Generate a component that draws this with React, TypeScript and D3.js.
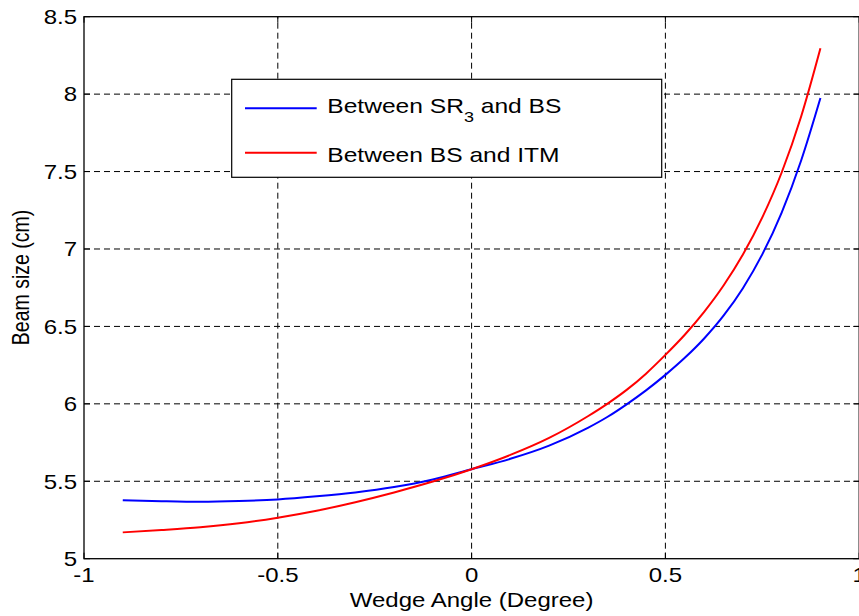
import React from "react";
import * as d3 from "d3";

const angles = [-0.9, -0.8, -0.7, -0.6, -0.5, -0.4, -0.3, -0.2, -0.1, 0, 0.1, 0.2, 0.3, 0.35, 0.4, 0.45, 0.5, 0.55, 0.6, 0.65, 0.7, 0.75, 0.8, 0.85, 0.9];
const sr3ToBs = [5.378, 5.371, 5.367, 5.372, 5.383, 5.403, 5.428, 5.463, 5.512, 5.578, 5.645, 5.730, 5.845, 5.915, 5.997, 6.087, 6.187, 6.297, 6.422, 6.569, 6.747, 6.965, 7.235, 7.570, 7.975];
const bsToItm = [5.170, 5.185, 5.203, 5.229, 5.265, 5.310, 5.365, 5.428, 5.498, 5.578, 5.670, 5.780, 5.920, 6.000, 6.090, 6.195, 6.316, 6.446, 6.594, 6.764, 6.964, 7.204, 7.494, 7.854, 8.296];
const xTicks = [-1, -0.5, 0, 0.5, 1];
const yTicks = [5, 5.5, 6, 6.5, 7, 7.5, 8, 8.5];
const xTickLabels = ["-1", "-0.5", "0", "0.5", "1"];
const yTickLabels = ["5", "5.5", "6", "6.5", "7", "7.5", "8", "8.5"];

const W = 859, H = 616;
const L = 84, R = 859.2, T = 16.7, B = 558.7;
const SX = 1.2;
const FONT = "Arial, 'Liberation Sans', Helvetica, sans-serif";

const ST = ({ x, y, anchor = "start", size = 20, children, rotate = 0 }: any) => (
  <g transform={`translate(${x},${y}) rotate(${rotate}) scale(${rotate ? 1 : SX},${rotate ? SX : 1})`}>
    <text x={0} y={0} textAnchor={anchor} fontSize={size} fontFamily={FONT} fill="#000">{children}</text>
  </g>
);

export default function App() {
  const x = d3.scaleLinear().domain([-1, 1]).range([L, R]);
  const y = d3.scaleLinear().domain([5, 8.5]).range([B, T]);
  const line = d3.line<number>().x((_, i) => x(angles[i])).y(d => y(d)).curve(d3.curveMonotoneX);
  const tk = 6;
  return (
    <svg width={W} height={H} style={{ position: "absolute", left: 0, top: 0, background: "#fff" }}>
      <rect x={0} y={0} width={W} height={H} fill="#fff" />
      {xTicks.slice(1, -1).map(v => (
        <line key={"gx" + v} x1={x(v)} x2={x(v)} y1={B} y2={T} stroke="#000" strokeWidth={1} strokeDasharray="6,4" />
      ))}
      {yTicks.slice(1, -1).map(v => (
        <line key={"gy" + v} x1={L} x2={R} y1={y(v)} y2={y(v)} stroke="#000" strokeWidth={1} strokeDasharray="6,4" />
      ))}
      {xTicks.map(v => (
        <g key={"tx" + v}>
          <line x1={x(v)} x2={x(v)} y1={B} y2={B - tk} stroke="#000" />
          <line x1={x(v)} x2={x(v)} y1={T} y2={T + tk} stroke="#000" />
        </g>
      ))}
      {yTicks.map(v => (
        <g key={"ty" + v}>
          <line x1={L} x2={L + tk} y1={y(v)} y2={y(v)} stroke="#000" />
          <line x1={R} x2={R - tk} y1={y(v)} y2={y(v)} stroke="#000" />
        </g>
      ))}
      <path d={line(sr3ToBs) || ""} fill="none" stroke="#0000ff" strokeWidth={2} />
      <path d={line(bsToItm) || ""} fill="none" stroke="#ff0000" strokeWidth={2} />
      <rect x={L} y={T} width={R - L} height={B - T} fill="none" stroke="#000" strokeWidth={1.3} />
      {xTicks.map((v, i) => (
        <ST key={"lx" + v} x={x(v)} y={582} anchor="middle" size={20}>{xTickLabels[i]}</ST>
      ))}
      {yTicks.map((v, i) => (
        <ST key={"ly" + v} x={77} y={y(v) + 7.3} anchor="end" size={20}>{yTickLabels[i]}</ST>
      ))}
      <ST x={x(0)} y={607} anchor="middle" size={20}>Wedge Angle (Degree)</ST>
      <ST x={29} y={277.5} anchor="middle" size={19.5} rotate={-90}>Beam size (cm)</ST>
      <rect x={231.7} y={79.3} width={430} height={98} fill="#fff" stroke="#000" strokeWidth={1.2} />
      <line x1={245} x2={316.7} y1={108.3} y2={108.3} stroke="#0000ff" strokeWidth={2} />
      <line x1={245} x2={316.7} y1={152.7} y2={152.7} stroke="#ff0000" strokeWidth={2} />
      <ST x={327.3} y={112.7} size={20.5}>
        Between SR<tspan fontSize={15} dy={9}>3</tspan><tspan dy={-9}> and BS</tspan>
      </ST>
      <ST x={327.3} y={161.5} size={20.5}>Between BS and ITM</ST>
    </svg>
  );
}
